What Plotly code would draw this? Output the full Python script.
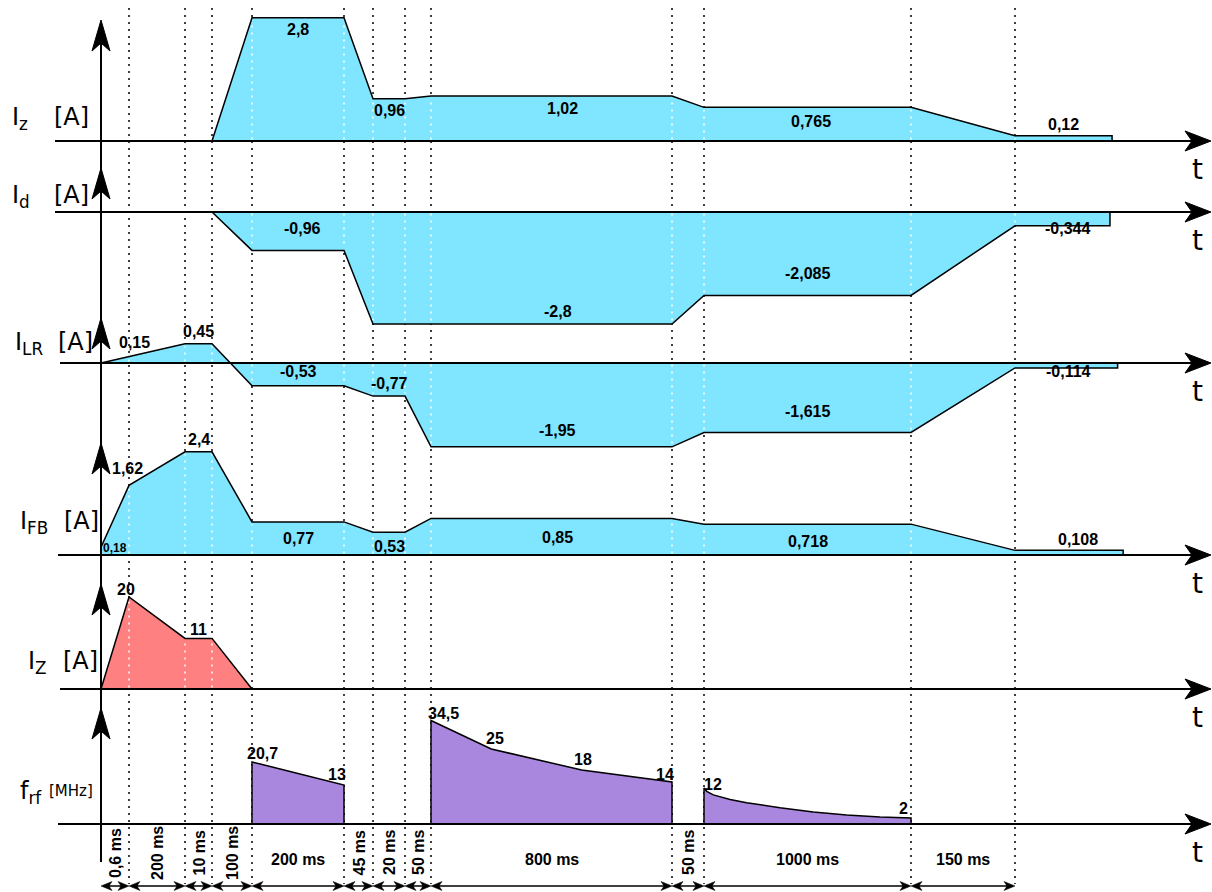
import numpy as np
import plotly.graph_objects as go

# ---------------- data ----------------
durations_ms = [0.6, 200, 10, 100, 200, 45, 20, 50, 800, 50, 1000, 150]
duration_labels = ["0,6 ms", "200 ms", "10 ms", "100 ms", "200 ms", "45 ms",
                   "20 ms", "50 ms", "800 ms", "50 ms", "1000 ms", "150 ms"]
T = [0.0]
for d in durations_ms:
    T.append(T[-1] + d)

# I_z [A]
iz_time = [T[3], T[4], T[5], T[6], T[7], T[8], T[9], T[10], T[11], T[12], T[12] + 140]
iz_val = [0, 2.8, 2.8, 0.96, 0.96, 1.02, 1.02, 0.765, 0.765, 0.12, 0.12]
# I_d [A]
id_time = [T[3], T[4], T[5], T[6], T[9], T[10], T[11], T[12], T[12] + 137]
id_val = [0, -0.96, -0.96, -2.8, -2.8, -2.085, -2.085, -0.344, -0.344]
# I_LR [A]
ilr_time = [T[0], T[1], T[2], T[3], T[4], T[5], T[6], T[7], T[8], T[9], T[10], T[11], T[12], T[12] + 148]
ilr_val = [0, 0.15, 0.45, 0.45, -0.53, -0.53, -0.77, -0.77, -1.95, -1.95, -1.615, -1.615, -0.114, -0.114]
# I_FB [A]
ifb_time = [T[0], T[0], T[1], T[2], T[3], T[4], T[5], T[6], T[7], T[8], T[9], T[10], T[11], T[12], T[12] + 156]
ifb_val = [0, 0.18, 1.62, 2.4, 2.4, 0.77, 0.77, 0.53, 0.53, 0.85, 0.85, 0.718, 0.718, 0.108, 0.108]
# I_Z [A]
izz_time = [T[0], T[1], T[2], T[3], T[4]]
izz_val = [0, 20, 11, 11, 0]
# f_rf [MHz] - three pulses
frf1_time = [T[4], T[5]]
frf1_val = [20.7, 13]
frf2_time = [T[8], T[8] + 200, T[8] + 500, T[9]]
frf2_val = [34.5, 25, 18, 14]
frf3_time = [T[10] + t for t in [0, 13, 45, 126, 206, 367, 528, 689, 850, 1000]]
frf3_val = [12, 10.9, 9.7, 8.2, 7.1, 5.4, 4.0, 3.0, 2.3, 2]

def mid(a, b):
    return (a + b) / 2

# value labels: (text, time, value-anchor, xshift, yshift, size)
iz_labels = [("2,8", mid(T[4], T[5]), 2.8, 0, -12, 16),
             ("0,96", mid(T[6], T[7]), 0.96, 0, -12, 16),
             ("1,02", mid(T[8], T[9]), 1.02, 11, -12, 16),
             ("0,765", mid(T[10], T[11]), 0.765, 3, -14, 16),
             ("0,12", T[12], 0.12, 48, 11, 16)]
id_labels = [("-0,96", mid(T[4], T[5]), -0.96, 4, 22, 16),
             ("-2,8", mid(T[8], T[9]), -2.8, 6, 13, 16),
             ("-2,085", mid(T[10], T[11]), -2.085, 0, 22, 16),
             ("-0,344", T[12], 0, 52, -16, 16)]
ilr_labels = [("0,15", T[1], 0.15, 5, 14, 16),
              ("0,45", mid(T[2], T[3]), 0.45, 0, 12, 16),
              ("-0,53", mid(T[4], T[5]), -0.53, 0, 14, 16),
              ("-0,77", mid(T[6], T[7]), -0.77, 0, 13, 16),
              ("-1,95", mid(T[8], T[9]), -1.95, 6, 16, 16),
              ("-1,615", mid(T[10], T[11]), -1.615, 0, 21, 16),
              ("-0,114", T[12], 0, 53, -8, 16)]
ifb_labels = [("1,62", T[1], 1.62, -2, 17, 16),
              ("2,4", mid(T[2], T[3]), 2.4, 0, 12, 16),
              ("0,18", T[0], 0, 14, 7, 12),
              ("0,77", mid(T[4], T[5]), 0, 0, 17, 16),
              ("0,53", mid(T[6], T[7]), 0, 0, 9, 16),
              ("0,85", mid(T[8], T[9]), 0, 6, 18, 16),
              ("0,718", mid(T[10], T[11]), 0, 0, 14, 16),
              ("0,108", T[12], 0.108, 63, 11, 16)]
izz_labels = [("20", T[1], 20, -3, 8, 16),
              ("11", mid(T[2], T[3]), 11, 0, 9, 16)]
frf_labels = [("20,7", T[4], 20.7, 10, 8, 16),
              ("13", T[5], 13, -7, 11, 16),
              ("34,5", T[8], 34.5, 12, 7, 16),
              ("25", T[8] + 200, 25, 4, 11, 16),
              ("18", T[8] + 500, 18, 1, 11, 16),
              ("14", T[9], 14, -7, 8, 16),
              ("12", T[10], 12, 9, 4, 16),
              ("2", T[11], 2, -8, 10, 16)]

# ---------------- layout / style ----------------
W, H = 1212, 892
CYAN, RED, PURPLE = "#80e5ff", "#ff8080", "#aa87de"
FONT_VAL = "Liberation Sans, Arial, sans-serif"
FONT_AX = "DejaVu Sans, Verdana, sans-serif"
seg_px = [28, 56, 27, 40, 92, 29, 32, 26, 241, 32, 207, 104]   # schematic widths
x_origin = 101
edges = [x_origin]
for w in seg_px:
    edges.append(edges[-1] + w)
edges = np.array(edges, dtype=float)
tail_slope = seg_px[-1] / durations_ms[-1]

def X(t):
    t = np.asarray(t, dtype=float)
    x = np.interp(t, T, edges)
    return np.where(t > T[-1], edges[-1] + (t - T[-1]) * tail_slope, x)

rows = [
    dict(pieces=[(iz_time, iz_val)], labels=iz_labels, color=CYAN, base=141, k=44,
         left=55, tip=20, name="I<sub>z</sub>", unit="[A]", nx=10, ux=52, ny=118, usize=24),
    dict(pieces=[(id_time, id_val)], labels=id_labels, color=CYAN, base=212, k=40,
         left=55, tip=168, name="I<sub>d</sub>", unit="[A]", nx=10, ux=52, ny=196, usize=24),
    dict(pieces=[(ilr_time, ilr_val)], labels=ilr_labels, color=CYAN, base=363, k=43,
         left=60, tip=318, name="I<sub>LR</sub>", unit="[A]", nx=13, ux=56, ny=343, usize=24),
    dict(pieces=[(ifb_time, ifb_val)], labels=ifb_labels, color=CYAN, base=555, k=43,
         left=58, tip=443, name="I<sub>FB</sub>", unit="[A]", nx=18, ux=62, ny=522, usize=24),
    dict(pieces=[(izz_time, izz_val)], labels=izz_labels, color=RED, base=689, k=4.6,
         left=60, tip=584, name="I<sub>Z</sub>", unit="[A]", nx=26, ux=61, ny=662, usize=24),
    dict(pieces=[(frf1_time, frf1_val), (frf2_time, frf2_val), (frf3_time, frf3_val)],
         labels=frf_labels, color=PURPLE, base=824, k=3.0,
         left=58, tip=708, name="f<sub>rf</sub>", unit="[MHz]", nx=18, ux=47, ny=792, usize=15),
]

fig = go.Figure()
layout_axes = {}
shapes = []
annotations = []
DOT = "2px,5px"

def head_path(tx, ty, dx, dy, L, Wd, N):
    bx, by = tx - L * dx, ty - L * dy
    px, py = -dy, dx
    pts = [(tx, ty), (bx + Wd / 2 * px, by + Wd / 2 * py), (bx + N * dx, by + N * dy),
           (bx - Wd / 2 * px, by - Wd / 2 * py)]
    return "M " + " L ".join(f"{a:.2f},{b:.2f}" for a, b in pts) + " Z"

# black dotted time markers (below the fills)
for e in range(1, len(edges)):
    shapes.append(dict(type="line", xref="x", yref="y7", x0=edges[e], x1=edges[e], y0=8, y1=884,
                       line=dict(color="black", width=1.5, dash=DOT), layer="below"))

for i, r in enumerate(rows):
    yname = "y" if i == 0 else f"y{i + 1}"
    akey = "yaxis" if i == 0 else f"yaxis{i + 1}"
    ax = dict(range=[(r["base"] - H) / r["k"], r["base"] / r["k"]], visible=False,
              showgrid=False, zeroline=False, fixedrange=True)
    if i > 0:
        ax["overlaying"] = "y"
    layout_axes[akey] = ax

    outlines = []
    for (tt, vv) in r["pieces"]:
        px_ = X([tt[0]] + list(tt) + [tt[-1]])
        py_ = [0] + list(vv) + [0]
        fig.add_trace(go.Scatter(x=px_, y=py_, mode="lines", fill="toself", fillcolor=r["color"],
                                 line=dict(width=0, color=r["color"]), yaxis=yname,
                                 hoverinfo="skip", showlegend=False))
        # white dots of the markers seen through the filled area
        x_lo, x_hi = X(tt[0]), X(tt[-1])
        for e in range(1, len(edges)):
            if x_lo + 1 < edges[e] < x_hi - 1:
                te = T[e]
                ve = float(np.interp(te, tt, vv))
                if abs(ve) * r["k"] > 5:
                    top = ve - np.sign(ve) * 2.5 / r["k"]
                    fig.add_trace(go.Scatter(x=[edges[e], edges[e]], y=[np.sign(ve) * 1.5 / r["k"], top],
                                             mode="lines", line=dict(color="white", width=1.5, dash=DOT),
                                             yaxis=yname, hoverinfo="skip", showlegend=False))
        outlines.append((px_, py_))
    for px_, py_ in outlines:
        fig.add_trace(go.Scatter(x=px_, y=py_, mode="lines", line=dict(color="black", width=1.5),
                                 yaxis=yname, hoverinfo="skip", showlegend=False))

    # value labels
    for (txt, tpos, yv, xs, ys, sz) in r["labels"]:
        annotations.append(dict(x=float(X(tpos)), y=yv, xref="x", yref=yname, text=f"<b>{txt}</b>",
                                showarrow=False, xshift=xs, yshift=ys,
                                font=dict(family=FONT_VAL, size=sz, color="black")))

    # baseline with arrow
    b = r["base"]
    shapes.append(dict(type="line", xref="x", yref="y7", x0=r["left"], x1=1195, y0=b, y1=b,
                       line=dict(color="black", width=2), layer="above"))
    shapes.append(dict(type="path", xref="x", yref="y7",
                       path=head_path(1211, b, 1, 0, 26, 20, 7),
                       fillcolor="black", line=dict(color="black", width=1), layer="above"))
    # vertical arrow head
    shapes.append(dict(type="path", xref="x", yref="y7",
                       path=head_path(x_origin, r["tip"], 0, -1, 31, 18, 8),
                       fillcolor="black", line=dict(color="black", width=1), layer="above"))
    # 't' label
    annotations.append(dict(x=1197, y=b + 28, xref="x", yref="y7", text="t", showarrow=False,
                            font=dict(family=FONT_AX, size=28, color="black")))
    # row name and unit
    annotations.append(dict(x=r["nx"], y=r["ny"], xref="x", yref="y7", text=r["name"], showarrow=False,
                            xanchor="left", yanchor="middle",
                            font=dict(family=FONT_AX, size=24, color="black")))
    annotations.append(dict(x=r["ux"], y=r["ny"] - 1, xref="x", yref="y7", text=r["unit"], showarrow=False,
                            xanchor="left", yanchor="middle",
                            font=dict(family=FONT_AX, size=r["usize"], color="black")))

# main vertical axis line
shapes.append(dict(type="line", xref="x", yref="y7", x0=x_origin, x1=x_origin, y0=24, y1=862,
                   line=dict(color="black", width=2), layer="above"))

# bottom dimension arrows and duration labels
ydim = 886
for s in range(len(seg_px)):
    xa, xb = edges[s], edges[s + 1]
    shapes.append(dict(type="line", xref="x", yref="y7", x0=xa + 3, x1=xb - 3, y0=ydim, y1=ydim,
                       line=dict(color="black", width=1.5), layer="above"))
    shapes.append(dict(type="path", xref="x", yref="y7", path=head_path(xa, ydim, -1, 0, 11, 9, 3),
                       fillcolor="black", line=dict(color="black", width=0.5), layer="above"))
    shapes.append(dict(type="path", xref="x", yref="y7", path=head_path(xb, ydim, 1, 0, 11, 9, 3),
                       fillcolor="black", line=dict(color="black", width=0.5), layer="above"))
    narrow = seg_px[s] < 60
    annotations.append(dict(x=(xa + xb) / 2, y=853 if narrow else 859, xref="x", yref="y7",
                            text=f"<b>{duration_labels[s]}</b>", showarrow=False,
                            textangle=-90 if narrow else 0,
                            font=dict(family=FONT_VAL, size=16, color="black")))

layout_axes["yaxis7"] = dict(range=[H, 0], overlaying="y", visible=False, showgrid=False,
                             zeroline=False, fixedrange=True)

fig.update_layout(
    width=W, height=H, margin=dict(l=0, r=0, t=0, b=0),
    paper_bgcolor="white", plot_bgcolor="white", showlegend=False,
    xaxis=dict(range=[0, W], visible=False, showgrid=False, zeroline=False, fixedrange=True),
    shapes=shapes, annotations=annotations, **layout_axes,
)

fig.write_html("out.html", config={"displayModeBar": False},
               post_script="document.body.style.margin='0';document.body.style.overflow='hidden';")
